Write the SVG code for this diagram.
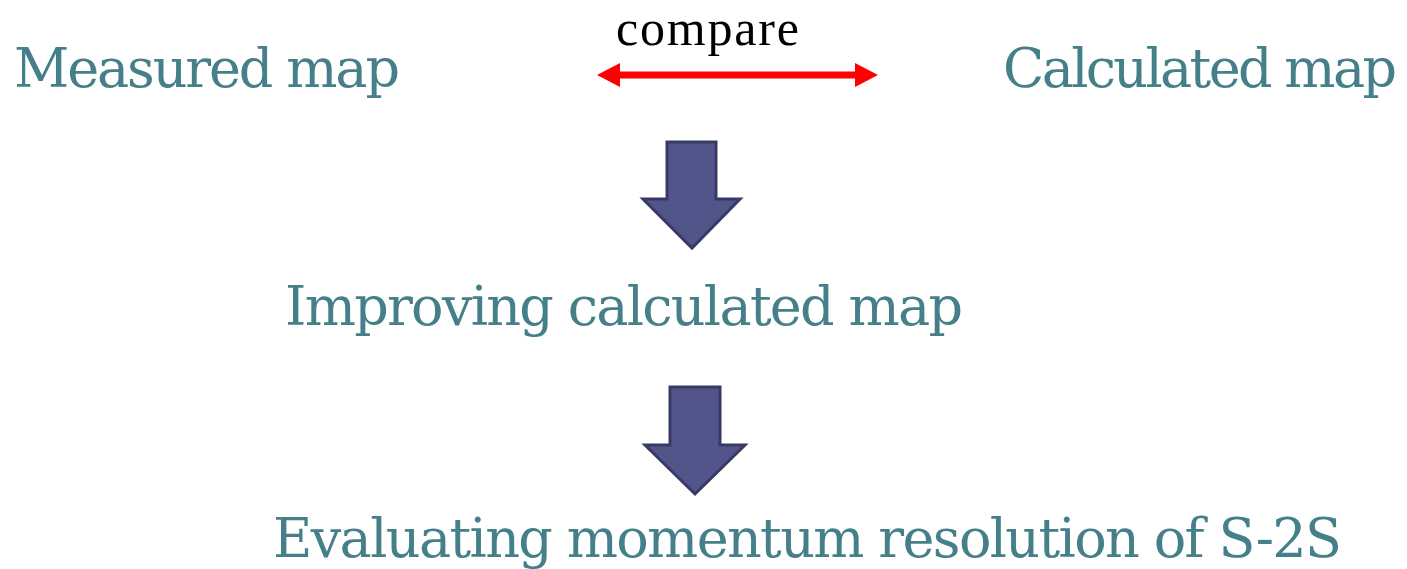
<svg xmlns="http://www.w3.org/2000/svg" width="1407" height="569" viewBox="0 0 1407 569">
<style>
.t{font-family:"DejaVu Serif","Liberation Serif",serif;font-size:54px;fill:#45808A}
.c{font-family:"Liberation Serif",serif;font-size:50px;fill:#000}
.blk{fill:#52558A;stroke:#383A66;stroke-width:3;stroke-linejoin:miter}
.red{fill:#FF0000}
</style>
<rect width="1407" height="569" fill="#fff"/>
<g id="measured"><text class="t" x="14" y="87" textLength="386">Measured map</text></g>
<g id="calculated"><text class="t" x="1003" y="87" textLength="394">Calculated map</text></g>
<g id="improving"><text class="t" x="285" y="325" textLength="678">Improving calculated map</text></g>
<g id="evaluating"><text class="t" x="273" y="557" textLength="1069">Evaluating momentum resolution of S-2S</text></g>
<g id="connectors">
<g id="compare">
<text class="c" x="616" y="45" textLength="183">compare</text>
<rect class="red" x="618" y="71.5" width="239" height="7"/>
<polygon class="red" points="597,75 620,63 620,87"/>
<polygon class="red" points="878,75 855,63 855,87"/>
</g>
<polygon class="blk" points="667,142 716,142 716,199 740,199 692,248 643,199 667,199"/>
<polygon class="blk" points="670,387 720,387 720,445 745,445 695,494 645,445 670,445"/>
</g>
</svg>
